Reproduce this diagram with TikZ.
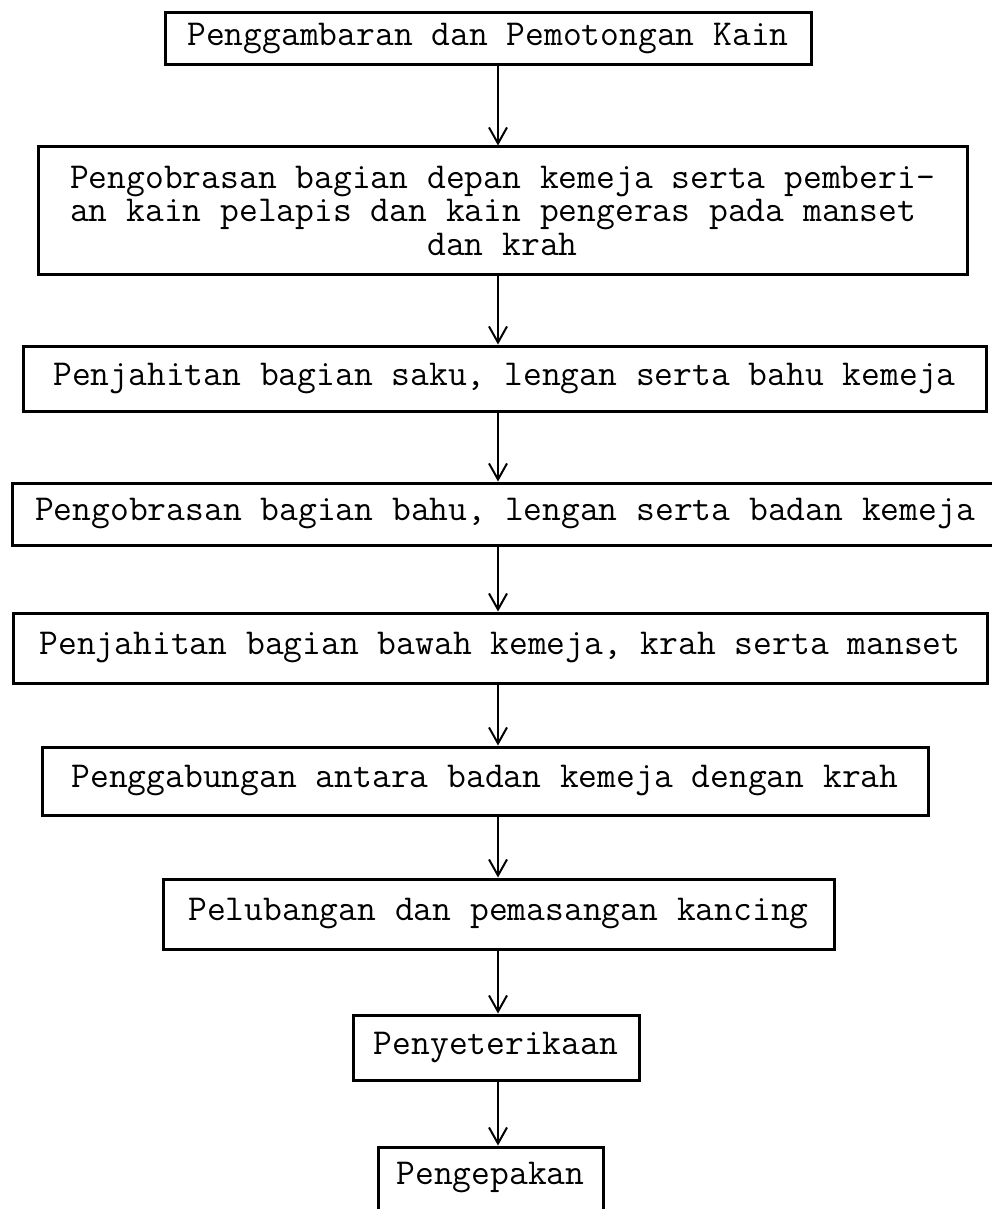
\documentclass[tikz,border=0pt]{standalone}
\usepackage{fontspec}
\setmonofont{Latin Modern Mono}
\usetikzlibrary{arrows.meta}
\tikzset{
  box/.style={draw=black, line width=3pt, rectangle, inner sep=0pt,
    font=\ttfamily\fontsize{36.5}{33.5}\selectfont, align=center},
  arr/.style={draw=black, line width=2pt, -{Straight Barb[length=16pt,width=18pt,line width=2pt]}}
}
\begin{document}
\begin{tikzpicture}[x=1pt,y=-1pt]
\useasboundingbox[fill=white] (0,0) rectangle (992,1209);
\coordinate (ax) at (498,0);
\node[box, minimum width=646pt, minimum height=52pt] (b1) at (488,39) {Penggambaran dan Pemotongan Kain};
\node[box, minimum width=929pt, minimum height=127pt] (b2) at (502.5,210.5) {Pengobrasan bagian depan kemeja serta pemberi-\\an kain pelapis dan kain pengeras pada manset\hphantom{x}\\dan krah};
\node[box, minimum width=963pt, minimum height=65pt] (b3) at (504.5,378.5) {Penjahitan bagian saku, lengan serta bahu kemeja};
\node[box, minimum width=986pt, minimum height=62pt] (b4) at (505,514) {Pengobrasan bagian bahu, lengan serta badan kemeja};
\node[box, minimum width=974pt, minimum height=70pt] (b5) at (500,648) {Penjahitan bagian bawah kemeja, krah serta manset};
\node[box, minimum width=886pt, minimum height=68pt] (b6) at (485,781) {Penggabungan antara badan kemeja dengan krah};
\node[box, minimum width=671pt, minimum height=70pt] (b7) at (498.5,914) {Pelubangan dan pemasangan kancing};
\node[box, minimum width=286pt, minimum height=65pt] (b8) at (496,1047.5) {Penyeterikaan};
\node[box, minimum width=225pt, minimum height=100pt] (b9) at (490.5,1197) {};
\node[font=\ttfamily\fontsize{36.5}{33.5}\selectfont, inner sep=0pt] (t9) at (490.5,1178) {Pengepakan};
\draw[arr] (b1.south -| ax) -- (b2.north -| ax);
\draw[arr] (b2.south -| ax) -- (b3.north -| ax);
\draw[arr] (b3.south -| ax) -- (b4.north -| ax);
\draw[arr] (b4.south -| ax) -- (b5.north -| ax);
\draw[arr] (b5.south -| ax) -- (b6.north -| ax);
\draw[arr] (b6.south -| ax) -- (b7.north -| ax);
\draw[arr] (b7.south -| ax) -- (b8.north -| ax);
\draw[arr] (b8.south -| ax) -- (b9.north -| ax);
\end{tikzpicture}
\end{document}
